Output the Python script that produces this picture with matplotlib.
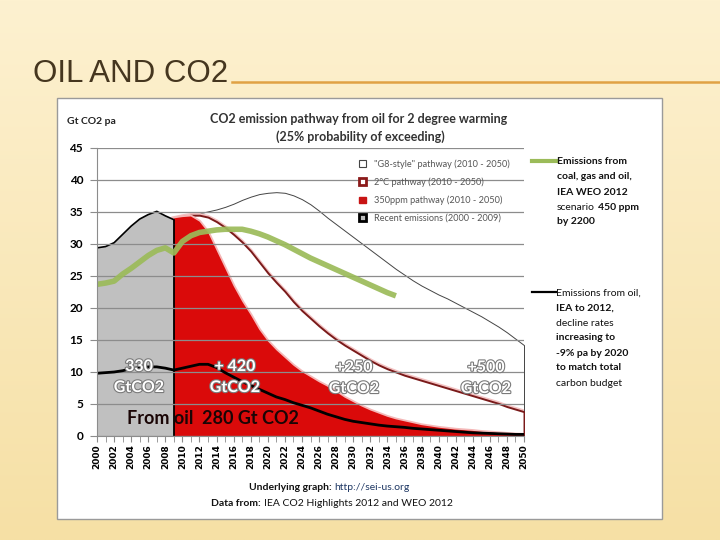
import numpy as np
import matplotlib
matplotlib.use('Agg')
import matplotlib.pyplot as plt
import matplotlib.patheffects as pe
from matplotlib.patches import Patch, Rectangle
from matplotlib.lines import Line2D

W, H = 720, 540
CHART_FONT = 'Lato'

def fx(x):
    return x / W

def fy(y):
    return 1 - y / H

# ---- data (Gt CO2 per year) ----
years_recent = list(range(2000, 2010))
recent = [29.4, 29.6, 30.2, 31.5, 32.8, 33.9, 34.6, 35.1, 34.4, 33.8]

years_path = list(range(2009, 2051))
g8_path = [34.0, 34.3, 34.6, 34.8, 35.1, 35.4, 35.8, 36.3, 36.9, 37.4,
           37.8, 38.0, 38.1, 38.0, 37.6, 37.0, 36.2, 35.2, 34.1, 33.1,
           32.1, 31.1, 30.1, 29.1, 28.1, 27.1, 26.1, 25.2, 24.3, 23.5,
           22.8, 22.1, 21.5, 20.8, 20.1, 19.4, 18.7, 17.9, 17.1, 16.2, 15.2, 14.2]
two_deg_path = [34.0, 34.3, 34.5, 34.5, 34.2, 33.5, 32.6, 31.5, 30.3, 28.9,
                27.2, 25.5, 24.0, 22.6, 21.0, 19.6, 18.4, 17.2, 16.1, 15.1,
                14.2, 13.4, 12.6, 11.8, 11.1, 10.5, 10.0, 9.5, 9.1, 8.7,
                8.3, 7.9, 7.5, 7.1, 6.7, 6.3, 5.9, 5.5, 5.1, 4.6, 4.2, 3.8]
ppm350_path = [34.0, 34.2, 34.3, 33.5, 31.8, 29.0, 26.2, 23.4, 21.0, 18.9,
               16.6, 14.8, 13.4, 12.2, 11.0, 10.0, 9.2, 8.4, 7.7, 6.9,
               6.0, 5.3, 4.6, 4.0, 3.5, 3.0, 2.6, 2.3, 2.0, 1.7,
               1.5, 1.3, 1.15, 1.0, 0.9, 0.8, 0.65, 0.55, 0.45, 0.35, 0.25, 0.2]

years_green = list(range(2000, 2036))
all_fuels_450 = [23.7, 23.9, 24.2, 25.3, 26.2, 27.2, 28.2, 29.0, 29.4, 28.6,
                 30.4, 31.3, 31.8, 32.0, 32.2, 32.3, 32.3, 32.3, 32.0, 31.6,
                 31.1, 30.5, 29.9, 29.2, 28.5, 27.8, 27.2, 26.6, 26.0, 25.4,
                 24.8, 24.2, 23.6, 23.0, 22.4, 21.9]

years_oil = list(range(2000, 2051))
oil = [9.8, 9.9, 10.0, 10.2, 10.5, 10.7, 10.8, 10.8, 10.6, 10.3,
       10.6, 10.9, 11.2, 11.2, 10.7, 9.9, 9.2, 8.5, 7.9, 7.3,
       6.7, 6.1, 5.7, 5.2, 4.8, 4.4, 3.9, 3.4, 3.0, 2.6,
       2.3, 2.1, 1.9, 1.7, 1.55, 1.45, 1.35, 1.2, 1.1, 1.0,
       0.9, 0.8, 0.7, 0.6, 0.5, 0.45, 0.4, 0.35, 0.3, 0.25, 0.25]

legend_labels = ['"G8-style" pathway (2010 - 2050)', '2\u00b0C pathway (2010 - 2050)',
                 '350ppm pathway (2010 - 2050)', 'Recent emissions (2000 - 2009)']
budget_labels = [('330', 'GtCO2'), ('+ 420', 'GtCO2'), ('+250', 'GtCO2'), ('+500', 'GtCO2')]

RED = '#da0a0a'
DARKRED = '#7a1a1a'
GREEN = '#9bbb59'

fig = plt.figure(figsize=(7.2, 5.4), dpi=100)

# slide background
bg = fig.add_axes([0, 0, 1, 1], zorder=-10)
top = np.array([253, 241, 208]) / 255
bot = np.array([246, 224, 165]) / 255
t = np.linspace(0, 1, 200)[:, None, None]
grad = np.repeat(top * (1 - t) + bot * t, 4, axis=1)
bg.imshow(grad, aspect='auto', extent=[0, 1, 0, 1])
bg.axis('off')

fig.text(fx(33), fy(82), 'OIL AND CO2', fontsize=22.5, color='#45361f',
         family='Liberation Sans', va='baseline')
fig.add_artist(Line2D([fx(232), fx(720)], [fy(82), fy(82)], color='#e0a244', lw=1.8))

# white picture frame
fig.add_artist(Rectangle((fx(57), fy(519)), (662 - 57) / W, (519 - 98) / H,
                         facecolor='white', edgecolor='#9a9a9a', lw=1, zorder=-5))

ax = fig.add_axes([fx(97), fy(436), (524 - 97) / W, (436 - 148) / H])
ax.set_facecolor('none')

# pathways
ax.fill_between(years_path, g8_path, facecolor='white', edgecolor='#444444', lw=0.7, zorder=1)
ax.plot(years_path, two_deg_path, color='#f3c2c2', lw=3.2, zorder=1.1)
ax.fill_between(years_path, two_deg_path, facecolor='white', edgecolor=DARKRED, lw=1.4, zorder=1.2)
ax.plot(years_path, ppm350_path, color='#f4b8b8', lw=2.6, zorder=1.3)
ax.fill_between(years_path, ppm350_path, facecolor=RED, edgecolor='none', zorder=1.4)
ax.fill_between(years_recent, recent, facecolor='#c0c0c0', edgecolor='none', zorder=1.5)
ax.plot(years_recent, recent, color='black', lw=1.2, zorder=1.6)
ax.vlines(years_recent[-1], 0, recent[-1], color='black', lw=1.3, zorder=1.6)

ax.plot(years_green, all_fuels_450, color=GREEN, lw=4, alpha=0.92, zorder=3,
        solid_capstyle='butt')
ax.plot(years_oil, oil, color='black', lw=2, zorder=3.2)

ax.set_xlim(2000, 2050)
ax.set_ylim(0, 45)
ax.set_axisbelow(False)
ax.yaxis.grid(True, color='#8c8c8c', lw=0.9)
ax.set_yticks(range(0, 46, 5))
ax.set_xticks(range(2000, 2051, 2))
ax.set_xticks(range(2000, 2051), minor=True)
for s in ['top', 'right']:
    ax.spines[s].set_visible(False)
for s in ['left', 'bottom']:
    ax.spines[s].set_color('#8c8c8c')
    ax.spines[s].set_zorder(4)
ax.tick_params(axis='y', length=5, color='#8c8c8c', labelsize=8.5, pad=5)
ax.tick_params(axis='x', which='both', length=4, color='#8c8c8c', labelsize=6.5,
               labelrotation=90, pad=2)
for lab in ax.get_yticklabels():
    lab.set_fontweight('bold')
    lab.set_family(CHART_FONT)
for lab in ax.get_xticklabels():
    lab.set_fontweight('bold')

handles = [Patch(facecolor='white', edgecolor='#444444', lw=0.8),
           Patch(facecolor='white', edgecolor='#8b1a1a', lw=2),
           Patch(facecolor='#c81414', edgecolor='#c81414'),
           Patch(facecolor='#bdbdbd', edgecolor='black', lw=2)]
fig.legend(handles, legend_labels, loc='upper left', bbox_to_anchor=(fx(359), fy(159)),
           frameon=False, labelcolor='#555555', handlelength=0.75,
           handleheight=0.75, handletextpad=0.9, labelspacing=0.95,
           borderpad=0, borderaxespad=0, prop={'family': CHART_FONT, 'size': 6.6})

# chart titles
fig.text(fx(67), fy(121), 'Gt CO2 pa', fontsize=7.5, weight='bold', color='#222222',
         family=CHART_FONT, va='center')
fig.text(fx(359), fy(119), 'CO2 emission pathway from oil for 2 degree warming',
         fontsize=9, weight='bold', color='#333333', family=CHART_FONT, ha='center', va='center')
fig.text(fx(360), fy(137), '(25% probability of exceeding)',
         fontsize=9, weight='bold', color='#333333', family=CHART_FONT, ha='center', va='center')

# budget labels
halo = [pe.withStroke(linewidth=1.6, foreground='#7a7a7a')]
budget_pos = [(139, 367, 388), (235, 367, 388), (354, 368, 389), (486, 368, 389)]
for (top_txt, bot_txt), (x, y1, y2) in zip(budget_labels, budget_pos):
    for txt, y in [(top_txt, y1), (bot_txt, y2)]:
        fig.text(fx(x), fy(y), txt, fontsize=11.5, weight='bold', color='white',
                 family=CHART_FONT, ha='center', va='center', path_effects=halo)

fig.text(fx(127), fy(419), 'From oil  280 Gt CO2', fontsize=13, weight='bold',
         color='#1a0505', family=CHART_FONT, va='center')

# notes: pieces of one line in different weights, laid end to end
def line_parts(parts, x, y, size=7.5, color='#111111'):
    prev = fig.text(fx(x), fy(y), parts[0][0], fontsize=size, weight=parts[0][1],
                    color=parts[0][2] if len(parts[0]) > 2 else color,
                    family=CHART_FONT, va='center')
    for p in parts[1:]:
        prev = ax.annotate(p[0], xy=(1, 0.5), xycoords=prev, xytext=(2.2, 0),
                           textcoords='offset points', fontsize=size, weight=p[1],
                           color=p[2] if len(p) > 2 else color,
                           family=CHART_FONT, va='center', ha='left',
                           annotation_clip=False)
    return prev

fig.add_artist(Line2D([fx(532), fx(556)], [fy(161), fy(161)], color=GREEN, lw=3))
green_note = [[('Emissions from', 'bold')],
              [('coal, gas and oil,', 'bold')],
              [('IEA WEO 2012', 'bold')],
              [('scenario', 'normal'), ('450 ppm', 'bold')],
              [('by 2200', 'bold')]]
for i, parts in enumerate(green_note):
    line_parts(parts, 557, 162 + 15 * i)

fig.add_artist(Line2D([fx(532), fx(556)], [fy(292), fy(292)], color='black', lw=1.6))
oil_note = [[('Emissions from oil,', 'normal')],
            [('IEA to 2012,', 'bold')],
            [('decline rates', 'normal')],
            [('increasing to', 'bold')],
            [('-9% pa by 2020', 'bold')],
            [('to match total', 'bold')],
            [('carbon budget', 'normal')]]
for i, parts in enumerate(oil_note):
    line_parts(parts, 556, 293 + 15 * i)

# source lines
line_parts([('Underlying graph:', 'bold'), ('http://sei-us.org', 'normal', '#1f3864')], 249, 488)
line_parts([('Data from:', 'bold'), ('IEA CO2 Highlights 2012 and WEO 2012', 'normal')], 211, 503)

plt.savefig('out.png', dpi=100)
